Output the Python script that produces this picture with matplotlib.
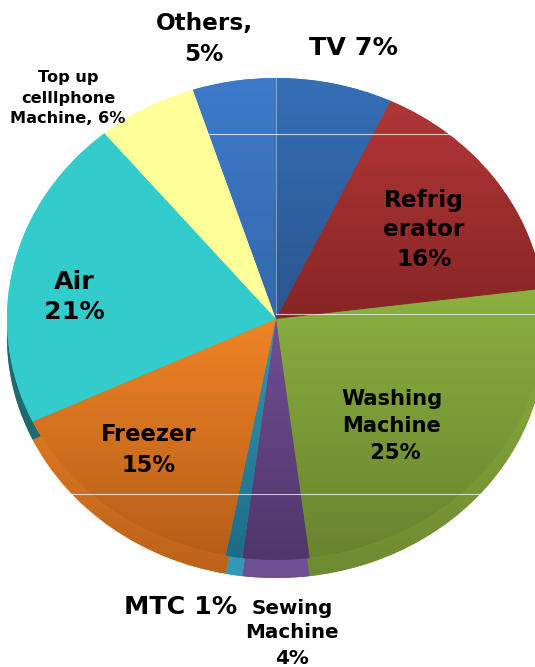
import matplotlib
matplotlib.use('Agg')
import matplotlib.pyplot as plt
from matplotlib.colors import LinearSegmentedColormap
import numpy as np

W, H = 535, 667
CX, CY = 276, 319
RX, RY = 269, 241
DEPTH = 18

names = ['TV', 'Refrigerator', 'Washing Machine', 'Sewing Machine', 'MTC',
         'Freezer', 'Air', 'Top up cellphone Machine', 'Others']
shares = [7, 16, 25, 4, 1, 15, 21, 6, 5]

# top and bottom shade of each slice
top_colors = ['#356fb6', '#b23636', '#8cb040', '#704e94', '#3298b6',
              '#ef8326', '#33cccc', '#ffff99', '#3e7aca']
bottom_colors = ['#2a558f', '#872525', '#69832e', '#50366a', '#1e6c86',
                 '#b65e18', '#33cccc', '#ffff99', '#3468ac']
# same for the side wall
rim_top = ['#2a558f', '#872525', '#8cb040', '#704e94', '#3298b6',
           '#f08428', '#1f6b70', '#ffff99', '#3468ac']
rim_bottom = ['#2a558f', '#872525', '#6e8a30', '#704e94', '#3298b6',
              '#bc621a', '#1f6b70', '#ffff99', '#3468ac']

# text, x, y, size, line spacing
labels = [
    ('TV 7%', 353, 48, 18.3, 1.1),
    ('Others,\n5%', 204, 39, 16.7, 1.4),
    ('Top up\ncelllphone\nMachine, 6%', 68, 98, 11.6, 1.45),
    ('Refrig\nerator\n16%', 424, 230, 16.7, 1.38),
    ('Air\n21%', 74, 297, 18.3, 1.3),
    ('Washing\nMachine\n 25%', 392, 426, 15.1, 1.45),
    ('Freezer\n15%', 149, 450, 16.3, 1.42),
    ('MTC 1%', 181, 607, 18.3, 1.1),
    ('Sewing\nMachine\n4%', 292, 633, 14.3, 1.4),
]

# thin pale rules crossing the pie: y, x start, x end
h_rules = [(134, 208, 451), (314, 276, 535), (494, 72, 481)]
v_rules = [(276, 78, 314)]


def shade(ax, wedge, c1, c2):
    # vertical gradient over the slice's box, clipped to the slice
    box = wedge.get_path().transformed(wedge.get_patch_transform()).get_extents()
    cmap = LinearSegmentedColormap.from_list('shade', [c1, c2])
    grad = np.linspace(0, 1, 128).reshape(-1, 1)
    im = ax.imshow(grad, cmap=cmap, aspect='auto', zorder=wedge.get_zorder() + 0.05,
                   extent=(box.x0, box.x1, box.y0, box.y1), origin='upper')
    im.set_clip_path(wedge)


fig = plt.figure(figsize=(W / 100, H / 100), dpi=100, facecolor='white')
ax = fig.add_axes([0, 0, 1, 1])

# side wall, shifted down, then the top face over it
rim, _ = ax.pie(shares, colors=rim_top, startangle=90, counterclock=False,
                center=(0, -DEPTH / RY), wedgeprops=dict(linewidth=0, zorder=2))
for wedge, c1, c2 in zip(rim, rim_top, rim_bottom):
    shade(ax, wedge, c1, c2)

wedges, _ = ax.pie(shares, colors=top_colors, startangle=90, counterclock=False,
                   wedgeprops=dict(linewidth=0, zorder=3))
for wedge, c1, c2 in zip(wedges, top_colors, bottom_colors):
    shade(ax, wedge, c1, c2)

ax.set_aspect('auto')
ax.set_xlim(-CX / RX, (W - CX) / RX)
ax.set_ylim(-(H - CY) / RY, CY / RY)
ax.axis('off')

for y, x0, x1 in h_rules:
    fig.add_artist(plt.Line2D([x0 / W, x1 / W], [1 - y / H] * 2, color='white', lw=0.8, alpha=0.7))
for x, y0, y1 in v_rules:
    fig.add_artist(plt.Line2D([x / W] * 2, [1 - y0 / H, 1 - y1 / H], color='white', lw=0.7, alpha=0.4))

for text, x, y, size, gap in labels:
    fig.text(x / W, 1 - y / H, text, ha='center', va='center', fontsize=size,
             fontweight='bold', family='DejaVu Sans', color='black', linespacing=gap)

fig.savefig('out.png', dpi=100)
